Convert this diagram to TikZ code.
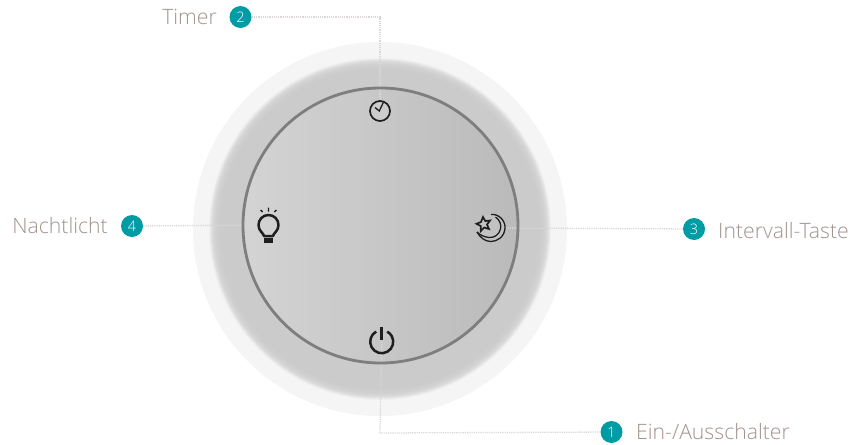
\documentclass[tikz,border=0pt]{standalone}
\usepackage{fontspec}
\setmainfont{Open Sans Light}
\definecolor{teal1}{HTML}{009CA6}
\definecolor{lbl}{HTML}{A0928F}
\definecolor{dotc}{HTML}{DCD6D4}
\definecolor{ringc}{HTML}{7E7E80}
\definecolor{ico}{HTML}{1E1E20}
\tikzset{
 badge/.style={circle,fill=teal1,minimum size=22pt,inner sep=0pt,text=white,font=\fontsize{14.5}{14.5}\selectfont},
 lab/.style={text=lbl,inner sep=0pt,font=\fontsize{21.2}{23}\selectfont},
 leader/.style={dotc,line width=1.3pt,dash pattern=on 1.2pt off 1pt},
}
\begin{document}
\begin{tikzpicture}[x=1pt,y=-1pt]
\useasboundingbox (0,0) rectangle (853,444);
% outer halo
\fill[black!4] (380,229) circle (187);
% main disc with blurred edge
\foreach \r/\c in {171/6,170/9,169/12,168/14,167/16,166/17,165/18,164/19,162/20,159/20.5}{
  \fill[black!\c] (380,229) circle (\r);
}
% face
\shade[left color=black!17, right color=black!27] (380.5,225.5) circle (137.5);
% badges and labels
\node[badge] (b2) at (240.5,17) {2};
\node[lab,anchor=east] (t2) at (217,17) {Timer};
\node[badge] (b4) at (132,226) {4};
\node[lab,anchor=east] (t4) at (108,226) {Nachtlicht};
\node[badge] (b3) at (694,229) {3};
\node[lab,anchor=west] (t3) at (718,231) {Intervall-Taste};
\node[badge] (b1) at (611.5,432) {1};
\node[lab,anchor=west] (t1) at (636,431.5) {Ein-/Ausschalter};
% icon anchors
\coordinate (clock) at (380,111);
\coordinate (bulb) at (268.5,225);
\coordinate (moon) at (491,228);
\coordinate (pow) at (381.7,341.7);
\coordinate (c2) at (380,17);
\coordinate (c1) at (380,433);
% leaders
\draw[leader] (b2) -- (c2) -- (clock);
\draw[leader] (b4) -- (bulb);
\draw[leader] (b3) -- (moon);
\draw[leader] (b1) -- (c1) -- (pow);
\draw[ringc,line width=2.8pt] (380.5,225.5) circle (137.5);
% clock
\begin{scope}[shift={(clock)}]
 \fill[black!20] (0,0) circle (10);
 \draw[ico,line width=1.7pt] (0,0) circle (10);
 \draw[ico,line width=1.3pt] (3.3,-8.5) -- (-0.7,0) -- (-5,-3.5);
\end{scope}
% bulb
\begin{scope}[shift={(bulb)}]
 \fill[black!18] (0,0) circle (10);
 \draw[ico,line width=2.5pt,line join=round] (-4.5,11) .. controls (-5,8) and (-10,6) .. (-10,0)
   arc[start angle=180,delta angle=180,radius=10]
   .. controls (10,6) and (5,8) .. (4.5,11) -- cycle;
 \fill[ico] (-4.2,12.7) rectangle (4.8,17.7);
 \draw[ico,line width=1.4pt] (0,-17.3) -- (0,-13.3) (-7.8,-15) -- (-5.8,-13) (7.8,-15) -- (5.8,-13);
\end{scope}
% moon and star
\begin{scope}[shift={(moon)}]
 \fill[black!24] (0,0) circle (13.5);
 \draw[ico,line width=1.3pt,line join=round] (0,-13.5)
   .. controls (8,-14.5) and (14.5,-7) .. (14,0)
   .. controls (13.5,9) and (6,13.5) .. (0,13.5)
   .. controls (-6,13.5) and (-11,9.5) .. (-14,4);
 \draw[ico,line width=1.3pt,line join=round] (4.5,-11)
   .. controls (9,-8) and (10.5,-3) .. (9.5,1)
   .. controls (8,7) and (3,10) .. (-2,9.5)
   .. controls (-7,9) and (-11,7) .. (-14,4);
 \draw[ico,line width=1.7pt,line join=miter] (-8,-11) -- (-5.7,-7) -- (-1,-7.5) -- (-4,-3.5) -- (-2,1) -- (-6.8,-0.5) -- (-10.2,3) -- (-10.2,-2) -- (-14.5,-4.2) -- (-10,-6) -- cycle;
\end{scope}
% power
\begin{scope}[shift={(pow)}]
 \draw[ico,line width=2.5pt] (-5.5,-10.1) arc[start angle=-118.6,delta angle=-302.8,radius=11.5];
 \draw[ico,line width=3pt] (0,-15) -- (0,-1.7);
\end{scope}
\end{tikzpicture}
\end{document}
